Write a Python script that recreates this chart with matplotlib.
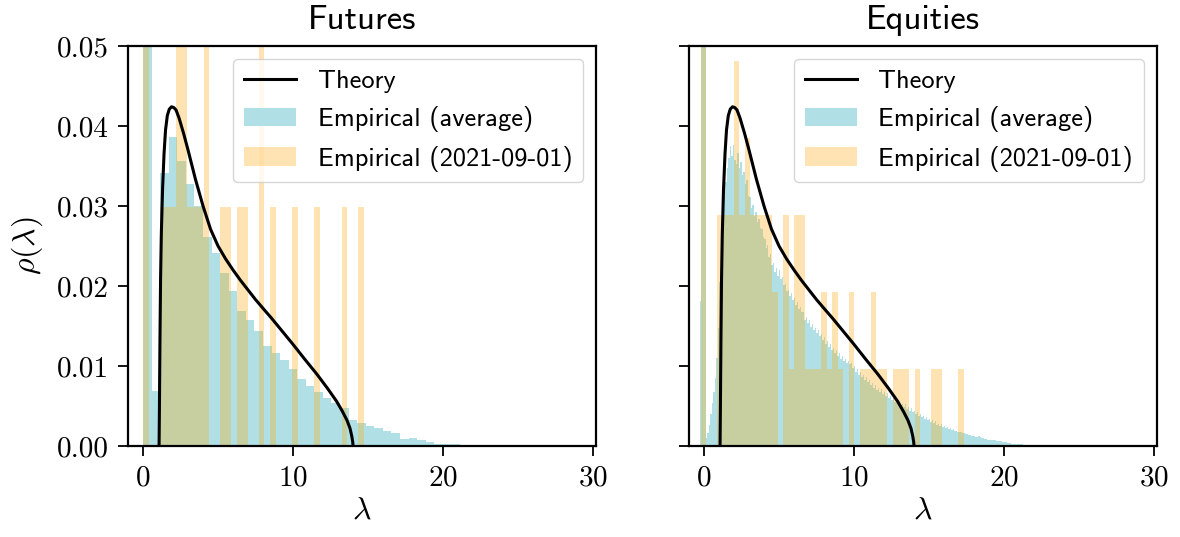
import numpy as np
import matplotlib
matplotlib.use("Agg")
import matplotlib.pyplot as plt

plt.rcParams['font.family'] = 'serif'
plt.rcParams['font.serif'] = ['cmr10']
plt.rcParams['mathtext.fontset'] = 'cm'
plt.rcParams['axes.formatter.use_mathtext'] = True
plt.rcParams['axes.unicode_minus'] = False

# theory curve (same curve in both panels)
theory_lam = [1.07, 1.09, 1.11, 1.13, 1.17, 1.22, 1.30, 1.40, 1.50, 1.62, 1.75, 1.90,
              2.05, 2.20, 2.40, 2.70, 3.00, 3.50, 4.00, 4.50, 5.00, 5.50, 6.00, 6.50,
              7.00, 7.50, 8.00, 8.60, 9.30, 10.00, 10.80, 11.58, 12.30, 12.90, 13.30,
              13.60, 13.80, 13.92, 13.98, 14.00]
theory_rho = [0.0, 0.0040, 0.0090, 0.0135, 0.0210, 0.0265, 0.0320, 0.0365, 0.0395, 0.0413,
              0.0421, 0.0424, 0.0423, 0.0420, 0.0410, 0.0391, 0.0370, 0.0333, 0.0300,
              0.0271, 0.0250, 0.0234, 0.0220, 0.0207, 0.0195, 0.0183, 0.0172, 0.0159,
              0.0143, 0.0127, 0.0108, 0.0090, 0.0072, 0.0056, 0.0043, 0.0032, 0.0022,
              0.0012, 0.0005, 0.0]

# futures, average histogram
fut_avg_start = 0.0
fut_avg_width = 0.571
fut_avg = [0.0800, 0.0069, 0.0341, 0.0386, 0.0356, 0.0327, 0.0300, 0.0261, 0.0241, 0.0216,
           0.0194, 0.0169, 0.0158, 0.0144, 0.0125, 0.0116, 0.0107, 0.0096, 0.0084, 0.0075,
           0.0067, 0.0060, 0.0054, 0.0047, 0.0033, 0.0029, 0.0025, 0.0022, 0.0019, 0.0016,
           0.00087, 0.0010, 0.00075, 0.0005, 0.00025, 0.00025, 0.00025, 0.00012, 0.00012,
           0.0, 0.00012, 0.00012]

# futures, single day (counts per bin)
fut_day_start = 0.0
fut_day_width = 0.368
fut_day_unit = 0.0299
fut_day_counts = [3, 0, 0, 1, 1, 1, 2, 2, 1, 1, 1, 2, 0, 0, 1, 1, 0, 1, 1, 0,
                  0, 2, 0, 1, 0, 0, 0, 1, 0, 0, 0, 1, 0, 0, 0, 0, 1, 0, 0, 1]

# equities, average histogram
eq_avg_start = -0.3
eq_avg_width = 0.1
eq_avg = [
    0.0181, 0.0900, 0.0850, 0.0600, 0.0010, 0.0016, 0.0026, 0.0040, 0.0054, 0.0068,
    0.0085, 0.0110, 0.0148, 0.0205, 0.0250, 0.0283, 0.0311, 0.0330, 0.0347, 0.0360,
    0.0375, 0.0362, 0.0376, 0.0358, 0.0352, 0.0366, 0.0347, 0.0355, 0.0339, 0.0343,
    0.0328, 0.0332, 0.0312, 0.0311, 0.0297, 0.0301, 0.0287, 0.0292, 0.0280, 0.0284,
    0.0272, 0.0271, 0.0261, 0.0259, 0.0248, 0.0251, 0.0236, 0.0240, 0.0226, 0.0229,
    0.0218, 0.0223, 0.0213, 0.0220, 0.0209, 0.0211, 0.0201, 0.0203, 0.0194, 0.0195,
    0.0187, 0.0191, 0.0183, 0.0185, 0.0176, 0.0180, 0.0171, 0.0174, 0.0167, 0.0168,
    0.0158, 0.0161, 0.0154, 0.0157, 0.0149, 0.0152, 0.0145, 0.0148, 0.0141, 0.0145,
    0.0137, 0.0140, 0.0133, 0.0136, 0.0128, 0.0131, 0.0124, 0.0127, 0.0120, 0.0122,
    0.0116, 0.0120, 0.0112, 0.0116, 0.0109, 0.0112, 0.0106, 0.0109, 0.0104, 0.0106,
    0.0102, 0.0104, 0.0097, 0.0100, 0.0093, 0.0096, 0.0089, 0.0092, 0.0086, 0.0089,
    0.0083, 0.0086, 0.0080, 0.0082, 0.0076, 0.0079, 0.0073, 0.0076, 0.0070, 0.0073,
    0.0068, 0.0071, 0.0065, 0.0068, 0.0063, 0.0066, 0.0060, 0.0063, 0.0058, 0.0060,
    0.0055, 0.0058, 0.0053, 0.0056, 0.0051, 0.0053, 0.0049, 0.0052, 0.0046, 0.0049,
    0.0044, 0.0047, 0.0042, 0.0044, 0.0040, 0.0042, 0.0038, 0.0040, 0.0036, 0.0038,
    0.0034, 0.0036, 0.0032, 0.0034, 0.0030, 0.0032, 0.0029, 0.0031, 0.0026, 0.0028,
    0.0025, 0.0027, 0.0024, 0.0025, 0.0022, 0.0024, 0.0021, 0.0023, 0.0020, 0.0021,
    0.0019, 0.0019, 0.0018, 0.0017, 0.0017, 0.0016, 0.0016, 0.0015, 0.0015, 0.0014,
    0.0014, 0.0013, 0.0013, 0.0012, 0.0011, 0.0011, 0.0012, 0.0011, 0.0010, 0.0010,
    0.0009, 0.0009, 0.0008, 0.0008, 0.0007, 0.0007, 0.0007, 0.0007, 0.0006, 0.0006,
    0.0006, 0.0006, 0.0005, 0.0005, 0.0005, 0.0004, 0.0004, 0.0004, 0.0003, 0.0003,
    0.0003, 0.0002, 0.0002, 0.0002, 0.0002, 0.0002, 0.00015, 0.00015, 0.00012, 0.00012,
    0.0001, 0.0001, 0.0001, 0.00008, 0.0001, 0.00008, 0.00006, 0.00008, 0.00005, 0.00005,
    0.00005, 0.00004, 0.00004, 0.00003, 0.00003, 0.0, 0.00003, 0.00002]

# equities, single day (counts per bin)
eq_day_start = -0.2
eq_day_width = 0.365
eq_day_unit = 0.00963
eq_day_counts = [8, 0, 0, 3, 3, 3, 5, 3, 4, 3, 3, 3, 3, 2, 0, 3, 1, 3, 3, 1,
                 1, 1, 2, 1, 2, 1, 0, 2, 0, 1, 1, 2, 1, 1, 0, 1, 1, 1, 0, 1,
                 0, 0, 1, 1, 0, 0, 0, 1]

blue = 'powderblue'
orange = 'orange'


def panel(ax, title, avg_start, avg_width, avg, day_start, day_width, day_unit, day_counts):
    avg = np.array(avg)
    avg_edges = avg_start + avg_width * np.arange(len(avg))
    counts = np.array(day_counts)
    day_edges = day_start + day_width * np.arange(len(counts))
    line, = ax.plot(theory_lam, theory_rho, color='black', lw=2.2, zorder=3)
    b1 = ax.bar(avg_edges, avg, width=avg_width, align='edge', color=blue, lw=0)
    b2 = ax.bar(day_edges, counts * day_unit, width=day_width, align='edge',
                color=orange, alpha=0.3, lw=0)
    ax.set_xlim(-1.0, 30.2)
    ax.set_ylim(0, 0.05)
    ax.set_xticks([0, 10, 20, 30])
    ax.set_yticks([0, 0.01, 0.02, 0.03, 0.04, 0.05])
    ax.set_yticklabels(['0.00', '0.01', '0.02', '0.03', '0.04', '0.05'])
    ax.tick_params(direction='out', length=7, width=1.3, labelsize=21, pad=7)
    for s in ax.spines.values():
        s.set_linewidth(1.6)
    ax.set_title(title, fontsize=25, family='cmss10', pad=12)
    ax.set_xlabel(r'$\lambda$', fontsize=23, labelpad=4)
    ax.legend([line, b1, b2], ['Theory', 'Empirical (average)', 'Empirical (2021-09-01)'],
              loc='upper right', prop={'family': 'cmss10', 'size': 19},
              borderaxespad=0.5)
    return ax


fig = plt.figure(figsize=(11.8, 5.37), dpi=100)
ax1 = fig.add_axes([0.1085, 0.1695, 0.3966, 0.7449])
ax2 = fig.add_axes([0.5839, 0.1695, 0.3966, 0.7449])

panel(ax1, 'Futures', fut_avg_start, fut_avg_width, fut_avg,
      fut_day_start, fut_day_width, fut_day_unit, fut_day_counts)
panel(ax2, 'Equities', eq_avg_start, eq_avg_width, eq_avg,
      eq_day_start, eq_day_width, eq_day_unit, eq_day_counts)

ax1.set_ylabel(r'$\rho(\lambda)$', fontsize=23, labelpad=8)
ax2.tick_params(labelleft=False)

fig.savefig('out.png', dpi=100)
